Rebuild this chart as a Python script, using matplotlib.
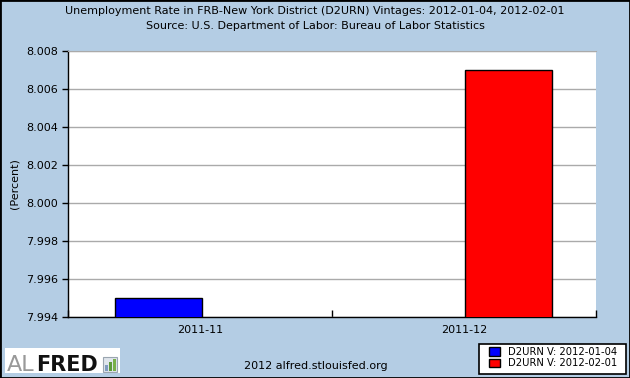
import numpy as np
from matplotlib import pyplot as plt
from matplotlib.patches import Patch, Rectangle

categories = ['2011-11', '2011-12']
vintage_0104 = [7.995, np.nan]
vintage_0201 = [np.nan, 8.007]
series_names = ['D2URN V: 2012-01-04', 'D2URN V: 2012-02-01']
yticks = [7.994, 7.996, 7.998, 8.000, 8.002, 8.004, 8.006, 8.008]

bg = '#b4cde4'
plt.rcParams['font.family'] = 'DejaVu Sans'


def fx(px):
    return px / 630


def fy(py):
    return 1 - py / 378


fig = plt.figure(figsize=(6.3, 3.78), dpi=100, facecolor=bg)
ax = fig.add_axes([fx(68), fy(317), 528 / 630, 266 / 378])

x = np.arange(len(categories))
w = 0.33
ax.bar(x - 0.158, vintage_0104, w, color='#0000ff', edgecolor='black', linewidth=1, zorder=3)
ax.bar(x + 0.168, vintage_0201, w, color='#ff0000', edgecolor='black', linewidth=1, zorder=3)

ax.set_xlim(-0.5, len(categories) - 0.5)
ax.set_ylim(7.994, 8.008)
ax.set_yticks(yticks)
ax.set_yticklabels([f'{v:.3f}' for v in yticks])
ax.yaxis.grid(True, color='#aaaaaa', linewidth=1)
ax.set_axisbelow(True)
ax.tick_params(axis='y', direction='out', length=4, width=1, labelsize=8, colors='black', pad=3)

ax.set_xticks(x)
ax.set_xticklabels(categories)
ax.set_xticks(np.arange(len(categories) + 1) - 0.5, minor=True)
ax.tick_params(axis='x', which='major', length=0, labelsize=8, pad=6)
ax.tick_params(axis='x', which='minor', direction='in', length=5, width=1)

ax.spines['top'].set_color('#aaaaaa')
ax.spines['right'].set_visible(False)
ax.spines['left'].set_linewidth(1)
ax.spines['bottom'].set_linewidth(1)

ax.set_ylabel('(Percent)', fontsize=8, labelpad=5)

fig.text(0.5, fy(11), 'Unemployment Rate in FRB-New York District (D2URN) Vintages: 2012-01-04, 2012-02-01',
         ha='center', va='center', fontsize=8)
fig.text(0.5, fy(26), 'Source: U.S. Department of Labor: Bureau of Labor Statistics',
         ha='center', va='center', fontsize=8)
fig.text(fx(316), fy(366), '2012 alfred.stlouisfed.org', ha='center', va='center', fontsize=8)

# ALFRED logo
fig.patches.append(Rectangle((fx(5), fy(373)), 115 / 630, 25 / 378,
                             transform=fig.transFigure, facecolor='white', edgecolor='none'))
fig.text(fx(7), fy(371), 'AL', fontsize=16, color='#999999', va='baseline', ha='left')
fig.text(fx(36), fy(371), 'FRED', fontsize=15, color='#111111', fontweight='heavy', va='baseline', ha='left')
fig.patches.append(Rectangle((fx(103), fy(372)), 14 / 630, 15 / 378, transform=fig.transFigure,
                             facecolor='#dfe5ec', edgecolor='#9aa5b0', linewidth=0.8))
for bx, bh, bc in [(105, 6, '#7f9bbf'), (109, 9, '#5e9a3a'), (113, 12, '#79b04a')]:
    fig.patches.append(Rectangle((fx(bx), fy(371)), 3 / 630, bh / 378,
                                 transform=fig.transFigure, facecolor=bc, edgecolor='none'))

# legend
fig.patches.append(Rectangle((fx(479), fy(374)), 147 / 630, 30 / 378, transform=fig.transFigure,
                             facecolor='white', edgecolor='black', linewidth=1.2))
handles = [Patch(facecolor='#0000ff', edgecolor='black'), Patch(facecolor='#ff0000', edgecolor='black')]
leg = fig.legend(handles, series_names, loc='upper left', bbox_to_anchor=(fx(489), fy(347)),
                 fontsize=7.2, frameon=False, handlelength=1.1, handleheight=0.95,
                 handletextpad=0.8, labelspacing=0.15, borderpad=0, borderaxespad=0)

fig.patches.append(Rectangle((0, 0), 1, 1, transform=fig.transFigure, fill=False,
                             edgecolor='black', linewidth=2))

fig.savefig('out.png', dpi=100, facecolor=bg)
